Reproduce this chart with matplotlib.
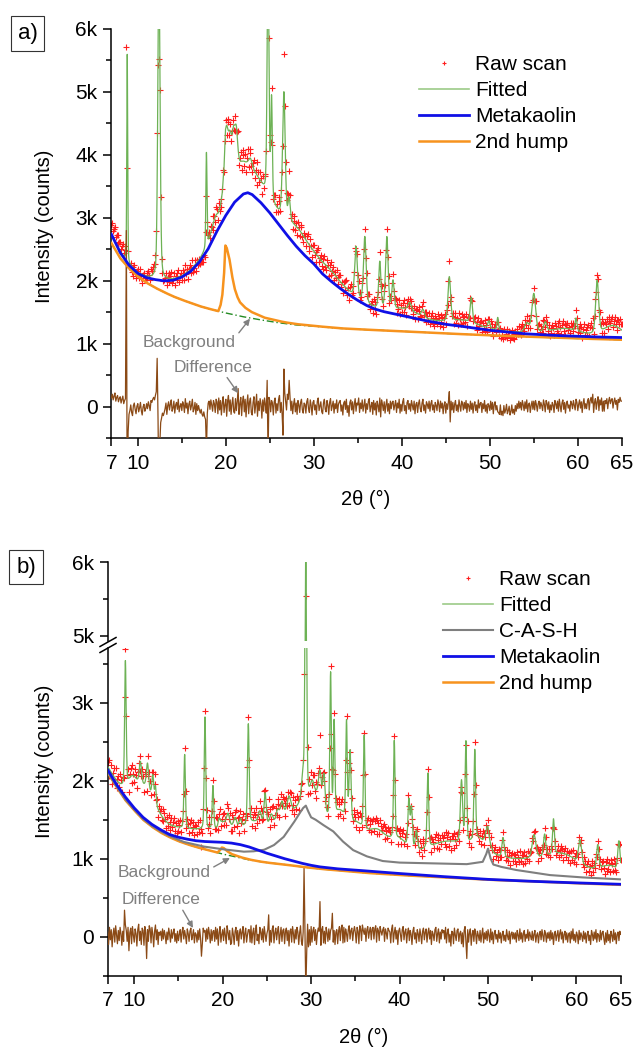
import numpy as np
import matplotlib
matplotlib.use("Agg")
import matplotlib.pyplot as plt
from matplotlib.ticker import FixedLocator, FuncFormatter
from matplotlib.lines import Line2D

plt.rcParams['font.family'] = ['Liberation Sans', 'DejaVu Sans']

# ------------------------------------------------------------------ data
SCAN_START, SCAN_END, SCAN_STEP = 7.0, 65.0, 0.1
x_major_ticks = [7, 10, 20, 30, 40, 50, 60, 65]
x_minor_ticks = [15, 25, 35, 45, 55]

# ---------- panel a : components (counts)
a_mk_x = [7, 8, 9, 10, 11, 12, 13, 14, 15, 16, 17, 18, 19, 20, 21, 22, 22.5, 23, 24, 25,
          26, 27, 28, 29, 30, 31, 32, 33, 34, 35, 36, 37, 38, 39, 41, 43, 45, 47, 50, 54,
          58, 62, 65]
a_mk_y = [2740, 2450, 2250, 2120, 2050, 2020, 2000, 2010, 2060, 2150, 2300, 2510, 2790, 3040,
          3250, 3380, 3400, 3370, 3240, 3080, 2900, 2720, 2550, 2400, 2270, 2110, 1990, 1880,
          1780, 1690, 1610, 1550, 1510, 1480, 1420, 1360, 1310, 1275, 1215, 1160, 1130, 1110,
          1100]
a_bg_x = [7, 8, 9, 10, 11, 12, 13, 14, 15, 16, 17, 18, 19, 20, 21, 22, 24, 26, 28, 30,
          33, 36, 40, 45, 50, 55, 60, 65]
a_bg_y = [2600, 2360, 2200, 2070, 1970, 1890, 1820, 1755, 1700, 1650, 1600, 1560, 1525, 1490,
          1460, 1430, 1380, 1335, 1300, 1280, 1245, 1225, 1200, 1165, 1135, 1110, 1085, 1065]
a_hump_x = [7, 19.15, 19.4, 19.6, 19.8, 19.95, 20.1, 20.4, 20.7, 21.0, 21.3, 21.6, 22.2, 22.9,
            24.4, 26.7, 30.0, 35.0, 65]
a_hump_y = [0, 0, 100, 260, 600, 1070, 1040, 880, 620, 420, 300, 220, 150, 100, 45, 20, 5, 0, 0]

# crystalline / extra peaks of the fit: position (deg), height (counts), FWHM (deg)
a_peak_pos = [18.8, 22.3, 28.2, 31.5, 40.5, 47.0, 58.5, 64.0,
              8.8, 12.4, 17.8, 20.1, 20.5, 20.9, 21.2, 22.8, 24.8, 25.2, 26.6, 27.2,
              34.8, 35.8, 37.5, 38.3, 39.0, 40.9, 42.4, 45.4, 47.9, 49.9, 50.9, 54.2,
              55.0, 56.3, 59.8, 62.2]
a_peak_h = [180, 330, 250, 150, 110, 90, 110, 180,
            3300, 5000, 1500, 150, 150, 400, 450, 120, 3700, 1600, 2000, 350,
            800, 1050, 740, 1150, 450, 120, 120, 700, 400, 120, 200, 150,
            620, 150, 200, 840]
a_peak_w = [1.0, 5.0, 3.0, 3.5, 3.0, 4.0, 4.0, 2.5,
            0.12, 0.3, 0.15, 0.35, 0.3, 0.4, 0.35, 0.4, 0.25, 0.2, 0.35, 0.3,
            0.35, 0.35, 0.3, 0.35, 0.3, 0.4, 0.4, 0.35, 0.3, 0.3, 0.2, 0.6,
            0.5, 0.4, 0.25, 0.4]

# difference (raw - fitted), tens of counts, one value per 0.1 deg from 7.0 to 65.0
a_diff_10 = [
    14, 20, 11, 17, 22, 9, 15, 18, 8, 13, 16, 6, 12, 17, 5, 10, 13, 280, -180, -40,
    -12, -6, 3, -9, -14, 2, 6, -4, -11, 1, 5, -8, -2, 7, -6, -13, 0, 4, -7, -3,
    5, -3, 8, 2, -6, 10, 7, 12, 15, 11, 18, 24, 77, -20, -150, -60, -25, -18, -10, -14,
    -9, -3, 6, -12, 2, 8, -5, 4, 11, -7, -2, 9, -10, 3, 7, -4, 12, -8, 1, 5,
    -6, 8, 3, -9, 13, -2, 6, -11, 4, 9, -5, 2, 12, -8, -3, 7, -12, 5, -6, 2,
    -5, -10, -4, -12, -15, -8, -16, -20, -70, -10, 6, 9, -4, 11, 3, -7, 10, 5, -9, 12,
    8, -11, 14, -5, 10, -13, 6, 16, -9, 3, 12, -15, 9, 18, -7, 11, -12, 5, 15, -8,
    -10, 13, -6, 8, 29, -12, 4, 15, -14, 9, 17, -8, 12, -16, 6, 19, -11, 8, 14, -9,
    -13, 7, 16, -10, 4, 20, -15, 9, -6, 13, 5, -18, 11, -7, 14, 3, -10, 42, -80, 15,
    10, -8, 10, 6, -13, 8, 14, -10, 5, -6, 12, 18, -9, 7, -12, -45, 60, 22, 8, -5,
    20, 12, 42, 15, -6, 9, -11, 4, 13, -8, 6, -12, 10, 3, -9, 7, 12, -5, -10, 6,
    4, -10, 8, 13, -3, -9, 11, 2, -13, 7, 10, -5, 3, -12, 9, 14, -6, 1, 8, -8,
    -11, 6, 12, -4, -8, 10, 3, -12, 7, 13, -6, 2, 9, -10, 5, -3, 11, -9, 4, 8,
    10, -7, 3, -13, 6, 9, -4, 12, -9, 2, -15, 7, 11, -5, 8, -11, 4, 13, -7, 6,
    3, 14, -9, 6, -3, 11, -7, 2, 12, -10, 5, -4, 9, 13, -8, 1, 7, -12, 10, -5,
    6, -13, 9, 2, -8, 14, -16, 11, 4, -6, 8, -10, 3, 12, -7, 5, -11, 9, -3, 7,
    9, -5, 3, 10, -9, 6, -2, 12, -10, 4, -7, 8, 13, -6, 2, -11, 7, 10, -4, 5,
    -7, 10, 2, -5, 9, -11, 4, 7, -9, 5, 11, -3, -8, 6, 12, -6, 3, -10, 8, 4,
    -3, 9, -7, 5, 10, -5, 3, -9, 7, 2, -6, 11, 4, -8, 9, -2, 6, -11, 3, 8,
    -10, 5, -4, 8, 24, -24, 9, -5, 7, -9, 4, 10, -6, 3, -8, 11, 2, -7, 9, 5,
    -5, 7, -3, 10, -9, 5, 2, -7, 9, -4, 6, -10, 4, 8, -6, 3, -9, 11, -2, 5,
    7, -9, 5, -3, 10, -7, 3, -10, 5, 2, -6, 9, -4, 7, -11, 4, 8, -5, 2, -8,
    -9, -12, 3, -13, -7, -14, 2, -10, -5, 4, -11, -6, 1, -13, -8, 3, -10, -4, -12, 2,
    -7, 5, -3, 9, -2, 7, -5, 10, 3, -6, 8, -3, 11, -8, 4, 6, -9, 2, 9, -4,
    9, -5, 10, 3, -7, 5, 9, -3, 7, 2, -6, 11, 4, -8, 10, 6, -4, 8, -9, 3,
    -5, 7, 3, -9, 10, 5, -3, 9, -7, 12, 2, -8, 6, 11, -4, 7, -10, 5, 9, -2,
    3, -7, 9, 5, -3, 10, 2, -5, 12, 7, -6, 4, 11, -2, 8, -9, 6, 13, -3, 5,
    -3, 9, 13, -5, 10, 15, 6, 20, -9, 7, 13, -4, 8, 16, -6, 11, 3, 14, -7, 9,
    -7, 10, 5, 13, -3, 9, 15, 5, 11, 13, -2, 8, 14, 4, 10, -5, 12, 7, 15, 9,
    9]

# ---------- panel b : components
b_bg_x = [7, 8, 9, 10, 11, 12, 13, 14, 15, 16, 17, 18, 19, 20, 21, 22, 23, 25, 27, 29,
          31, 33, 36, 40, 45, 50, 55, 60, 65]
b_bg_y = [2100, 1920, 1750, 1620, 1500, 1410, 1335, 1275, 1225, 1185, 1150, 1120, 1090, 1060,
          1035, 1010, 985, 950, 925, 895, 870, 850, 820, 790, 760, 730, 710, 685, 665]
b_mk_x = [7, 8, 9, 10, 11, 12, 13, 14, 15, 16, 17, 18, 19, 20, 21, 22, 23, 24, 25, 26,
          27, 28, 29, 30, 31, 33, 36, 40, 45, 50, 55, 60, 65]
b_mk_y = [2140, 1950, 1790, 1650, 1530, 1440, 1370, 1310, 1275, 1250, 1230, 1220, 1215, 1210,
          1200, 1180, 1150, 1110, 1070, 1035, 1000, 970, 940, 915, 895, 870, 845, 810, 770,
          735, 710, 690, 672]
b_hump_x = [7, 19.4, 19.7, 19.9, 20.1, 20.5, 21.0, 22.0, 24.0, 65]
b_hump_y = [0, 0, 40, 80, 80, 50, 25, 10, 0, 0]
b_cash_x = [7.0, 8.0, 9.0, 10.0, 11.0, 12.0, 13.0, 14.0, 15.6, 17.9, 20.1, 22.4, 23.5, 24.7,
            25.8, 26.9, 28.1, 28.8, 29.1, 29.4, 29.7, 30.0, 30.5, 31.4, 32.5, 33.6, 34.75,
            36.3, 38.1, 40.0, 43.8, 47.6, 49.4, 49.8, 50.0, 50.3, 50.6, 51.5, 53.2, 57.0,
            60.7, 65.0]
b_cash_y = [2110, 1925, 1760, 1630, 1510, 1420, 1350, 1290, 1215, 1155, 1120, 1090, 1095, 1115,
            1175, 1280, 1475, 1600, 1650, 1680, 1600, 1530, 1500, 1430, 1350, 1220, 1110,
            1030, 970, 950, 940, 930, 960, 1060, 1130, 1000, 925, 895, 855, 790, 760, 735]

b_peak_pos = [9.8, 11.3, 18.0, 23.8, 26.8, 30.6, 33.3, 35.0, 37.5, 40.0, 45.5, 49.0, 56.0,
              58.5, 63.8,
              9.0, 10.7, 11.5, 12.1, 12.4, 15.7, 18.0, 18.9, 19.6, 20.6, 21.4, 22.0, 22.9,
              24.2, 24.8, 25.5, 26.2, 26.7, 27.5, 29.1, 29.4, 30.1, 31.0, 31.45, 32.2, 32.6,
              34.0, 34.4, 36.0, 39.4, 41.05, 41.35, 41.9, 43.2, 47.0, 47.5, 48.5, 49.9, 51.7,
              55.2, 56.4, 57.4, 60.4, 62.4, 64.8]
b_peak_h = [200, 350, 110, 150, 150, 250, 250, 250, 320, 180, 250, 150, 150, 150, 120,
            1600, 280, 320, 300, 220, 950, 1440, 550, 100, 150, 120, 100, 1280,
            150, 420, 150, 130, 180, 200, 300, 4350, 200, 380, 450, 1850, 1200,
            1250, 900, 1200, 1250, 600, 520, 250, 950, 800, 1300, 1150, 100, 250,
            300, 280, 450, 300, 300, 380]
b_peak_w = [1.2, 2.5, 12.0, 2.5, 2.0, 1.5, 1.5, 2.0, 3.0, 2.0, 6.0, 2.0, 10.0, 4.0, 2.5,
            0.2, 0.3, 0.3, 0.25, 0.2, 0.2, 0.2, 0.2, 0.3, 0.4, 0.4, 0.3, 0.22,
            0.4, 0.3, 0.5, 0.4, 0.4, 0.5, 0.4, 0.2, 0.5, 0.4, 0.3, 0.2, 0.2,
            0.2, 0.25, 0.2, 0.2, 0.25, 0.25, 0.3, 0.22, 0.3, 0.22, 0.22, 0.3, 0.3,
            0.5, 0.3, 0.25, 0.4, 0.3, 0.3]

b_diff_10 = [
    6, -10, 12, -4, 9, -13, 3, 11, -7, 14, 2, -9, 8, -5, 12, 4, -11, 7, -6, 34,
    15, 8, -6, 12, -18, 5, 11, -9, 13, 2, -7, 10, 4, -12, 9, 16, -5, 7, -10, 11,
    8, -11, 13, 5, -28, 9, -6, 14, 10, -8, 12, 3, -13, 7, 15, -4, 9, -10, 6, 2,
    7, -5, 10, -3, 8, 2, -9, 6, -4, 11, 3, -7, 9, -2, 5, 10, -6, 4, -8, 7,
    -5, 3, 9, -7, 6, 12, -3, 8, 1, -9, 10, 4, -6, 7, 11, -4, 2, 9, -8, 5,
    3, -7, 8, -4, 10, -2, -25, -9, 11, 6, 8, -6, 10, -3, 12, 4, -8, 9, -5, 7,
    8, -6, 12, -3, 10, -11, 5, 13, -7, 3, 9, -5, 11, 2, -9, 14, 6, -4, 8, -10,
    -8, 11, 3, -10, 7, 12, -5, 8, -12, 5, 10, -3, 6, 13, -8, 4, 11, -7, 2, 9,
    9, -7, 14, -8, 5, 11, -10, 7, 15, -5, 3, -9, 12, 6, -4, 10, -7, 13, 4, -6,
    4, 9, 28, -11, 8, -7, 10, 14, -8, 5, 11, -4, 7, 13, -9, 3, 12, -6, 8, 10,
    -9, 7, 11, -5, 8, -12, 7, 10, -7, 13, 4, -8, 9, -3, 12, 6, -10, 5, 14, -6,
    -11, 6, 88, 10, -70, -20, 16, -13, 9, -11, 13, -7, 8, 12, -5, 9, -10, 4, 11, 7,
    45, -11, 9, 13, -8, 7, -9, 12, 5, -6, 10, -4, 8, 11, 30, -7, 8, -10, 6, 9,
    -9, 7, 13, -5, 11, 15, -8, 12, -7, 10, 4, -6, 9, 14, -3, 8, 11, -5, 7, 13,
    5, -8, 12, 7, -9, 14, 10, -5, 15, 8, 3, 11, -6, 9, 13, -2, 7, 12, -4, 10,
    12, -3, 10, 14, -7, 11, 8, -5, 13, 7, 2, 9, 12, -6, 10, 5, -3, 11, 8, 6,
    -8, 10, 15, -7, 5, 12, -3, 8, -10, 7, 11, 3, -6, 9, 13, -4, 6, 10, -8, 5,
    11, -5, 8, 3, -10, 7, 12, -3, 5, -8, 9, 4, -6, 10, 2, -9, 7, 11, -4, 6,
    10, -7, 5, 11, -3, 8, -10, 7, 3, -5, 9, 12, -6, 4, 10, -8, 6, -3, 9, 5,
    8, -3, 12, -8, 5, 10, -7, 3, -12, 7, 6, -9, 11, 2, -5, 8, 10, -6, 4, 7,
    -9, 5, -13, 8, 13, -6, -28, 9, -7, 5, 10, -11, 3, 8, -6, 10, 4, -9, 7, 2,
    -5, 8, -7, 3, 11, -8, 5, -3, 7, -5, 9, 2, -7, 10, -4, 6, -9, 4, 8, -3,
    3, -7, 8, -2, 5, -8, 3, 7, -5, 2, -6, 9, 1, -4, 7, -9, 4, 6, -3, 5,
    -3, 5, -7, 8, 2, -5, 10, -3, 5, -7, 4, 8, -6, 3, -2, 9, -5, 6, 1, -4,
    7, -5, 3, 8, -7, 2, 5, -8, 3, 7, -4, 9, 1, -6, 8, 4, -7, 5, -2, 6,
    -5, 8, -3, 5, -10, 3, 7, -5, 2, 8, -6, 4, 9, -3, 6, -8, 3, 7, -4, 5,
    -7, 3, 5, -8, 7, -3, 10, -5, 3, -7, 6, 2, -9, 8, -4, 5, 1, -6, 7, -3,
    5, -8, 3, 7, -5, 2, -10, 8, 3, -5, 6, -3, 9, -7, 4, 2, -6, 8, -4, 5,
    7, -3, -10, 5, -7, 8, -5, 3, -8, 7, 2, -6, 9, -4, 5, -9, 3, 6, -5, 7,
    3]

# ------------------------------------------------------------------ styles
C_RAW = '#FF1E1E'
C_FIT = '#6DB255'
C_MK = '#1010E6'
C_HUMP = '#F7931E'
C_CASH = '#7F7F7F'
C_BG = '#238B23'
C_DIFF = '#8B4A16'
C_NOTE = '#808080'
W, H = 635, 1048


def peak_sum(x, pos, height, fwhm, eta=0.3):
    x = np.asarray(x, float)[:, None]
    p = np.asarray(pos, float)[None, :]
    h = np.asarray(height, float)[None, :]
    w = np.asarray(fwhm, float)[None, :]
    d = (x - p) / w
    prof = eta / (1 + 4 * d ** 2) + (1 - eta) * np.exp(-4 * np.log(2) * d ** 2)
    return (h * prof).sum(axis=1)


def a_model(x):
    return (np.interp(x, a_mk_x, a_mk_y) + np.interp(x, a_hump_x, a_hump_y)
            + peak_sum(x, a_peak_pos, a_peak_h, a_peak_w))


def b_model(x):
    return (np.interp(x, b_mk_x, b_mk_y) + np.interp(x, b_hump_x, b_hump_y)
            + np.interp(x, b_cash_x, b_cash_y) - np.interp(x, b_bg_x, b_bg_y)
            + peak_sum(x, b_peak_pos, b_peak_h, b_peak_w))


fine = np.linspace(SCAN_START, SCAN_END, 5801)
scan_a = SCAN_START + SCAN_STEP * np.arange(len(a_diff_10))
scan_b = SCAN_START + SCAN_STEP * np.arange(len(b_diff_10))
diff_a = 10.0 * np.array(a_diff_10)
diff_b = 10.0 * np.array(b_diff_10)
raw_a = a_model(scan_a) + diff_a
raw_b = b_model(scan_b) + diff_b
fit_a = a_model(fine)
fit_b = b_model(fine)
orange_a = np.interp(fine, a_bg_x, a_bg_y) + np.interp(fine, a_hump_x, a_hump_y)
orange_b = np.interp(fine, b_bg_x, b_bg_y) + np.interp(fine, b_hump_x, b_hump_y)


def kfmt(v, pos=None):
    if abs(v) < 1e-9:
        return '0'
    return '%gk' % (v / 1000.0)


def rect(x0, y0, x1, y1):
    return [x0 / W, 1 - y1 / H, (x1 - x0) / W, (y1 - y0) / H]


def style_axes(ax, show_x=True):
    for s in ('top', 'right'):
        ax.spines[s].set_visible(False)
    for s in ('left', 'bottom'):
        ax.spines[s].set_linewidth(1.1)
    ax.tick_params(which='major', direction='out', length=6, width=1.1, labelsize=15, pad=4)
    ax.tick_params(which='minor', direction='out', length=3.5, width=1.1)
    ax.yaxis.set_major_formatter(FuncFormatter(kfmt))
    if show_x:
        ax.set_xlim(SCAN_START, SCAN_END)
        ax.xaxis.set_major_locator(FixedLocator(x_major_ticks))
        ax.xaxis.set_minor_locator(FixedLocator(x_minor_ticks))
        ax.tick_params(axis='x', pad=5)


RAW_KW = dict(ls='none', marker='+', ms=4, mew=0.8, color=C_RAW)

fig = plt.figure(figsize=(W / 100, H / 100), dpi=100)

# ================================================================ panel a
ax = fig.add_axes(rect(111.4, 29, 621.8, 438.3))
style_axes(ax)
ax.set_ylim(-500, 6000)
ax.yaxis.set_major_locator(FixedLocator([0, 1000, 2000, 3000, 4000, 5000, 6000]))
ax.yaxis.set_minor_locator(FixedLocator([-500, 500, 1500, 2500, 3500, 4500, 5500]))

ax.plot(scan_a, raw_a, zorder=2, **RAW_KW)
ax.plot(fine, fit_a, color=C_FIT, lw=0.9, zorder=3)
ax.plot(scan_a, diff_a, color=C_DIFF, lw=0.9, zorder=3)
ax.plot(a_bg_x, a_bg_y, color=C_BG, lw=1.0, ls=(0, (5, 2, 1, 2)), zorder=4)
ax.plot(fine, orange_a, color=C_HUMP, lw=1.8, zorder=5)
ax.plot(a_mk_x, a_mk_y, color=C_MK, lw=2.0, zorder=6)

handles_a = [Line2D([], [], ls='none', marker='+', ms=3, mew=0.8, color=C_RAW),
             Line2D([], [], color='#9CCB88', lw=1.2),
             Line2D([], [], color=C_MK, lw=2.0),
             Line2D([], [], color=C_HUMP, lw=1.8)]
ax.legend(handles_a, ['Raw scan', 'Fitted', 'Metakaolin', '2nd hump'], loc='upper left',
          bbox_to_anchor=(419 / W, 1 - 55 / H), bbox_transform=fig.transFigure,
          frameon=False, fontsize=15, handlelength=2.4, handletextpad=0.3,
          labelspacing=0.34, borderpad=0, borderaxespad=0)

ax.annotate('Background', xy=(22.75, 1400), xytext=(10.6, 1024), textcoords='data',
            color=C_NOTE, fontsize=12.5, va='center', ha='left', zorder=7,
            arrowprops=dict(arrowstyle='-|>', color=C_NOTE, lw=1, mutation_scale=9,
                            shrinkA=0, shrinkB=0, relpos=(1.0, 0.9)))
ax.annotate('Difference', xy=(21.4, 217), xytext=(14.1, 628), textcoords='data',
            color=C_NOTE, fontsize=12.5, va='center', ha='left', zorder=7,
            arrowprops=dict(arrowstyle='-|>', color=C_NOTE, lw=1, mutation_scale=9,
                            shrinkA=0, shrinkB=0, relpos=(0.65, 0.0)))

fig.text(45 / W, 1 - 226 / H, 'Intensity (counts)', rotation=90, ha='center', va='center',
         fontsize=14.5)
fig.text(366 / W, 1 - 499 / H, '2θ (°)', ha='center', va='center', fontsize=14.5)
fig.text(27.5 / W, 1 - 33.5 / H, 'a)', ha='center', va='center', fontsize=16,
         bbox=dict(boxstyle='square,pad=0.3', fc='white', ec='#333333', lw=0.8))

# ================================================================ panel b
axl = fig.add_axes(rect(107.7, 648, 620.7, 975.7))
axu = fig.add_axes(rect(107.7, 562.3, 620.7, 641))
style_axes(axl)
style_axes(axu)
axl.set_ylim(-500, 3701)
axl.yaxis.set_major_locator(FixedLocator([0, 1000, 2000, 3000]))
axl.yaxis.set_minor_locator(FixedLocator([-500, 500, 1500, 2500, 3500]))
axu.set_ylim(4932, 6000)
axu.yaxis.set_major_locator(FixedLocator([5000, 6000]))
axu.yaxis.set_minor_locator(FixedLocator([5500]))
axu.spines['bottom'].set_visible(False)
axu.tick_params(axis='x', which='both', bottom=False, labelbottom=False)
axu.patch.set_alpha(0)

for a_ in (axl, axu):
    a_.plot(scan_b, raw_b, zorder=2, **RAW_KW)
    a_.plot(fine, fit_b, color=C_FIT, lw=0.9, zorder=3)
axl.plot(scan_b, diff_b, color=C_DIFF, lw=0.9, zorder=3)
axl.plot(b_bg_x, b_bg_y, color=C_BG, lw=1.0, ls=(0, (5, 2, 1, 2)), zorder=4)
axl.plot(fine, orange_b, color=C_HUMP, lw=1.8, zorder=5)
axl.plot(b_cash_x, b_cash_y, color=C_CASH, lw=1.5, zorder=5)
axl.plot(b_mk_x, b_mk_y, color=C_MK, lw=2.0, zorder=6)

handles_b = [Line2D([], [], ls='none', marker='+', ms=3, mew=0.8, color=C_RAW),
             Line2D([], [], color='#9CCB88', lw=1.2),
             Line2D([], [], color=C_CASH, lw=1.5),
             Line2D([], [], color=C_MK, lw=2.0),
             Line2D([], [], color=C_HUMP, lw=1.8)]
axl.legend(handles_b, ['Raw scan', 'Fitted', 'C-A-S-H', 'Metakaolin', '2nd hump'],
           loc='upper left', bbox_to_anchor=(443 / W, 1 - 570 / H),
           bbox_transform=fig.transFigure, frameon=False, fontsize=15, handlelength=2.4,
           handletextpad=0.3, labelspacing=0.34, borderpad=0, borderaxespad=0)

axl.annotate('Background', xy=(20.82, 1009), xytext=(8.16, 817), textcoords='data',
             color=C_NOTE, fontsize=12.5, va='center', ha='left', zorder=7,
             arrowprops=dict(arrowstyle='-|>', color=C_NOTE, lw=1, mutation_scale=9,
                             shrinkA=0, shrinkB=0, relpos=(1.0, 0.8)))
axl.annotate('Difference', xy=(16.64, 112), xytext=(8.62, 471), textcoords='data',
             color=C_NOTE, fontsize=12.5, va='center', ha='left', zorder=7,
             arrowprops=dict(arrowstyle='-|>', color=C_NOTE, lw=1, mutation_scale=9,
                             shrinkA=0, shrinkB=0, relpos=(0.75, 0.0)))

# axis-break marks on the left spine
for y0 in (646.5, 652.5):
    fig.add_artist(Line2D([100 / W, 116 / W], [1 - y0 / H, 1 - (y0 - 9) / H],
                          color='black', lw=1.1, transform=fig.transFigure))

fig.text(45 / W, 1 - 761 / H, 'Intensity (counts)', rotation=90, ha='center', va='center',
         fontsize=14.5)
fig.text(364 / W, 1 - 1037 / H, '2θ (°)', ha='center', va='center', fontsize=14.5)
fig.text(26 / W, 1 - 567 / H, 'b)', ha='center', va='center', fontsize=16,
         bbox=dict(boxstyle='square,pad=0.3', fc='white', ec='#333333', lw=0.8))

fig.savefig('out.png', dpi=100)
